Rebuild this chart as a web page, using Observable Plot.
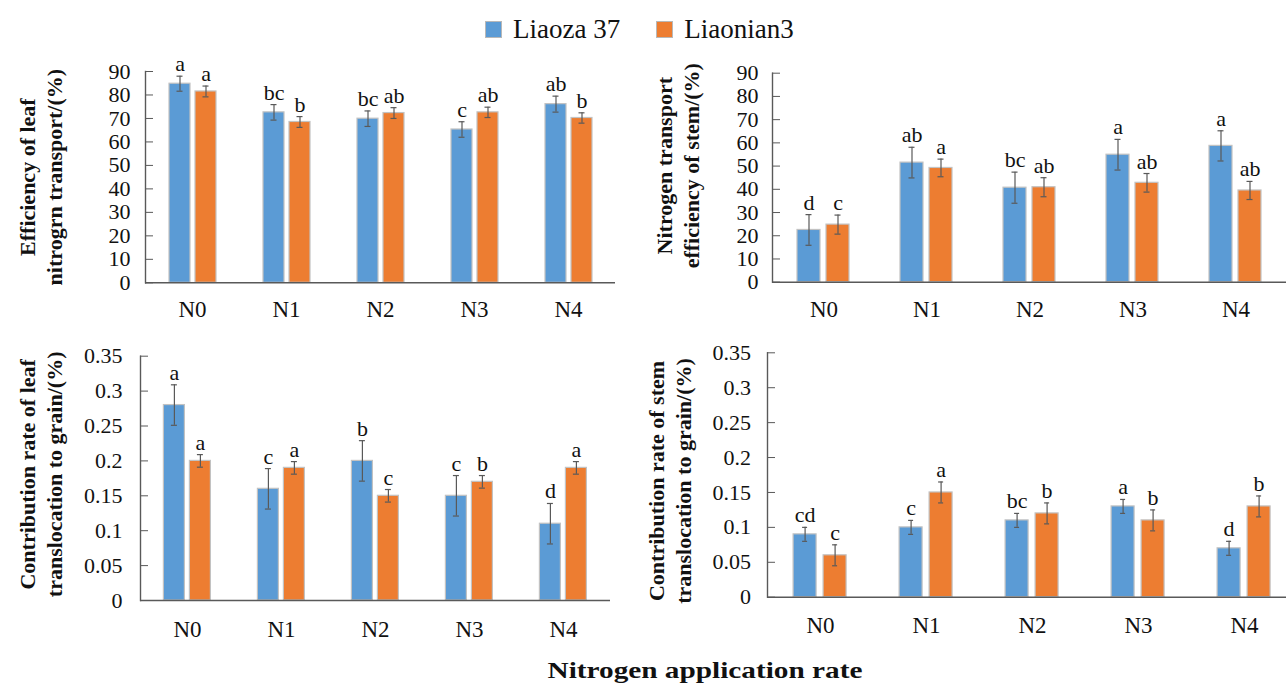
<!DOCTYPE html>
<html>
<head>
<meta charset="utf-8">
<script src="https://cdn.jsdelivr.net/npm/d3@7"></script>
<script src="https://cdn.jsdelivr.net/npm/@observablehq/plot@0.6"></script>
<style>
  html, body { margin: 0; padding: 0; background: #fff; overflow: hidden; }
  #root { position: relative; width: 1286px; height: 685px; font-family: "Liberation Serif", "Times New Roman", serif; }
  .panel { position: absolute; }
  #legend { position: absolute; left: 485px; top: 16px; height: 27px; display: flex; justify-content: flex-start; align-items: center; gap: 36px; font-size: 27px; line-height: 1; color: #111; }
  #legend .item { display: flex; align-items: center; }
  #legend .sw { width: 15px; height: 15px; border: 1px solid #b8b8b8; margin-right: 11px; }
  #xtitle { position: absolute; top: 658px; left: 705px; font-size: 24px; line-height: 1; font-weight: bold; white-space: nowrap; transform: translateX(-50%) scaleX(1.22); color: #111; }
</style>
</head>
<body>
<div id="root">
  <div id="legend"></div>
  <div id="xtitle">Nitrogen application rate</div>
</div>
<script>
// ---------- data ----------
const categories = ["N0", "N1", "N2", "N3", "N4"];
const series = ["Liaoza 37", "Liaonian3"];
const seriesColors = ["#5B9BD5", "#ED7D31"];

const yTicksTop = [0, 10, 20, 30, 40, 50, 60, 70, 80, 90];
const yTicksBottom = [0, 0.05, 0.1, 0.15, 0.2, 0.25, 0.3, 0.35];

// Panel A: Efficiency of leaf nitrogen transport (%)
const leafEffL37 = [84.8, 72.6, 69.9, 65.3, 76.1];
const leafEffL37Err = [3.2, 3.3, 3.3, 3.3, 3.4];
const leafEffL3 = [81.5, 68.5, 72.3, 72.6, 70.2];
const leafEffL3Err = [2.3, 2.3, 2.3, 2.2, 2.2];
const leafEffL37Sig = ["a", "bc", "bc", "c", "ab"];
const leafEffL3Sig = ["a", "b", "ab", "ab", "b"];

// Panel B: Nitrogen transport efficiency of stem (%)
const stemEffL37 = [22.5, 51.5, 40.7, 54.9, 58.7];
const stemEffL37Err = [6.6, 6.6, 6.7, 6.6, 6.5];
const stemEffL3 = [24.8, 49.2, 40.9, 42.8, 39.5];
const stemEffL3Err = [4.1, 3.8, 4.1, 4.0, 3.9];
const stemEffL37Sig = ["d", "ab", "bc", "a", "a"];
const stemEffL3Sig = ["c", "a", "ab", "ab", "ab"];

// Panel C: Contribution rate of leaf translocation to grain (%)
const leafConL37 = [0.28, 0.16, 0.20, 0.15, 0.11];
const leafConL37Err = [0.029, 0.029, 0.029, 0.029, 0.029];
const leafConL3 = [0.20, 0.19, 0.15, 0.17, 0.19];
const leafConL3Err = [0.009, 0.009, 0.009, 0.009, 0.009];
const leafConL37Sig = ["a", "c", "b", "c", "d"];
const leafConL3Sig = ["a", "a", "c", "b", "a"];

// Panel D: Contribution rate of stem translocation to grain (%)
const stemConL37 = [0.09, 0.10, 0.11, 0.13, 0.07];
const stemConL37Err = [0.01, 0.01, 0.01, 0.01, 0.01];
const stemConL3 = [0.06, 0.15, 0.12, 0.11, 0.13];
const stemConL3Err = [0.015, 0.015, 0.015, 0.015, 0.015];
const stemConL37Sig = ["cd", "c", "bc", "a", "d"];
const stemConL3Sig = ["c", "a", "b", "b", "b"];

// ---------- helpers ----------
function rows(vals, errs, sigs) {
  return categories.flatMap((c, i) =>
    series.map((s, j) => ({cat: c, series: s, value: vals[j][i], err: errs[j][i], sig: sigs[j][i]})));
}

const FONT = "'Liberation Serif', 'Times New Roman', serif";
const AXIS = "#595959";

function panel(data, o) {
  const p = Plot.plot({
    width: o.width, height: o.height,
    marginLeft: o.ml, marginRight: o.mr, marginTop: o.mt, marginBottom: o.mb,
    style: {background: "transparent", overflow: "visible", fontFamily: FONT, maxWidth: "none", color: "#111"},
    fx: {domain: categories, padding: 0, label: null},
    x: {domain: series, paddingInner: o.pin, paddingOuter: o.pout, axis: null},
    y: {domain: o.yDomain, label: null},
    color: {domain: series, range: seriesColors},
    marks: [
      Plot.barY(data, {fx: "cat", x: "series", y: "value", fill: "series", stroke: "#c2c2c2", strokeWidth: 1.2}),
      Plot.ruleX(data, {fx: "cat", x: "series", y1: d => d.value - d.err, y2: d => d.value + d.err, stroke: AXIS, strokeWidth: 1.2}),
      Plot.tickY(data, {fx: "cat", x: "series", y: d => d.value + d.err, stroke: AXIS, strokeWidth: 1.2, inset: o.capInset}),
      Plot.tickY(data, {fx: "cat", x: "series", y: d => d.value - d.err, stroke: AXIS, strokeWidth: 1.2, inset: o.capInset}),
      Plot.text(data, {fx: "cat", x: "series", y: d => d.value + d.err, text: "sig", lineAnchor: "bottom", dy: -5, fontSize: 22, fontFamily: FONT, fill: "#111"}),
      Plot.ruleY([0], {stroke: AXIS, strokeWidth: 1.4}),
      Plot.frame({anchor: "left", facetAnchor: "left", stroke: AXIS, strokeWidth: 1.4}),
      Plot.axisY({ticks: o.yTicks, tickFormat: o.fmt, tickSize: -8, tickPadding: o.tickPad, fontSize: 22, fontFamily: FONT, fontVariant: "normal", stroke: AXIS, fill: "#111", label: null}),
      Plot.axisFx({anchor: "bottom", tickSize: 0, tickPadding: o.fxPad, fontSize: 23, fontFamily: FONT, fill: "#111", label: null}),
      Plot.text([o.title], {frameAnchor: "left", facetAnchor: "left", rotate: -90, dx: o.tdx, dy: o.tdy,
        fontWeight: "bold", fontSize: 22, fontFamily: FONT, lineHeight: 1.23, lineAnchor: "middle", textAnchor: "middle", fill: "#111"})
    ]
  });
  const div = document.createElement("div");
  div.className = "panel";
  div.style.left = o.left + "px";
  div.style.top = o.top + "px";
  div.appendChild(p);
  document.getElementById("root").appendChild(div);
}

const fmtTop = d => String(d);
const fmtBottom = d => String(+d.toFixed(2));

panel(rows([leafEffL37, leafEffL3], [leafEffL37Err, leafEffL3Err], [leafEffL37Sig, leafEffL3Sig]), {
  left: 0, top: 0, width: 640, height: 322, ml: 144, mr: 24, mt: 71, mb: 39.7,
  yDomain: [0, 90], yTicks: yTicksTop, fmt: fmtTop, pin: 0.2, pout: 0.85, capInset: 7.5,
  tickPad: 23, fxPad: 18, title: "Efficiency of leaf\nnitrogrn transport/(%)", tdx: -106, tdy: 0
});

panel(rows([stemEffL37, stemEffL3], [stemEffL37Err, stemEffL3Err], [stemEffL37Sig, stemEffL3Sig]), {
  left: 640, top: 0, width: 647, height: 322, ml: 132, mr: 0, mt: 72.7, mb: 40.3,
  yDomain: [0, 90], yTicks: yTicksTop, fmt: fmtTop, pin: 0.2, pout: 0.86, capInset: 8.5,
  tickPad: 22, fxPad: 18, title: "Nitrogen transport\nefficiency of stem/(%)", tdx: -96, tdy: -12
});

panel(rows([leafConL37, leafConL3], [leafConL37Err, leafConL3Err], [leafConL37Sig, leafConL3Sig]), {
  left: 0, top: 330, width: 640, height: 315, ml: 139.6, mr: 28.6, mt: 25.7, mb: 45,
  yDomain: [0, 0.35], yTicks: yTicksBottom, fmt: fmtBottom, pin: 0.2, pout: 0.85, capInset: 7.5,
  tickPad: 26, fxPad: 20, title: "Contribution rate of leaf\ntranslocation to grain/(%)", tdx: -101, tdy: -4
});

panel(rows([stemConL37, stemConL3], [stemConL37Err, stemConL3Err], [stemConL37Sig, stemConL3Sig]), {
  left: 640, top: 330, width: 657, height: 310, ml: 126.9, mr: 0, mt: 22.3, mb: 43.3,
  yDomain: [0, 0.35], yTicks: yTicksBottom, fmt: fmtBottom, pin: 0.22, pout: 0.82, capInset: 9,
  tickPad: 24.5, fxPad: 19, title: "Contribution rate of stem\ntranslocation to grain/(%)", tdx: -99, tdy: 6
});

// ---------- legend ----------
const legend = document.getElementById("legend");
series.forEach((s, i) => {
  const item = document.createElement("div");
  item.className = "item";
  const sw = document.createElement("span");
  sw.className = "sw";
  sw.style.background = seriesColors[i];
  const label = document.createElement("span");
  label.textContent = s;
  item.appendChild(sw);
  item.appendChild(label);
  legend.appendChild(item);
});
</script>
</body>
</html>
